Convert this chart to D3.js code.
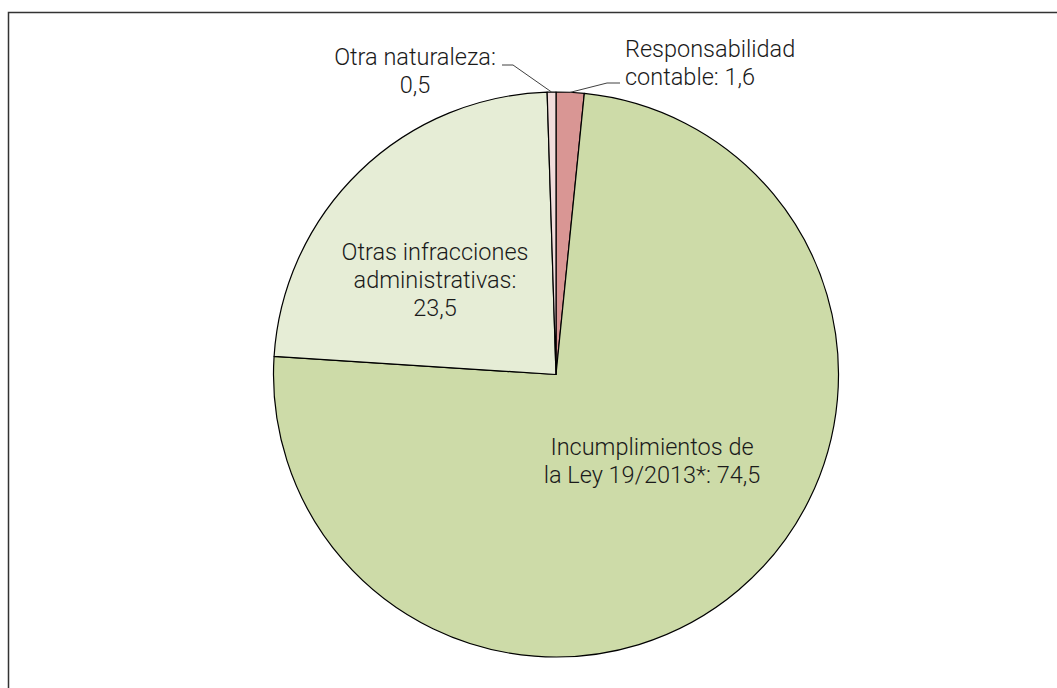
<!DOCTYPE html>
<html>
<head>
<meta charset="utf-8">
<script src="https://cdn.jsdelivr.net/npm/d3@7"></script>
<style>
  body { margin: 0; background: #fff; }
  text { font-family: Roboto, "Liberation Sans", sans-serif; font-weight: 300; fill: #1a1a1a; }
</style>
</head>
<body>
<div id="chart"></div>
<script>
// data, clockwise from 12 o'clock
const categories = ["Responsabilidad contable", "Incumplimientos de la Ley 19/2013*", "Otras infracciones administrativas", "Otra naturaleza"];
const values = [1.6, 74.5, 23.5, 0.5];
const labelLines = [
    ["Responsabilidad", "contable: 1,6"],
    ["Incumplimientos de", "la Ley 19/2013*: 74,5"],
    ["Otras infracciones", "administrativas:", "23,5"],
    ["Otra naturaleza:", "0,5"]
];
const colors = ["#d99694", "#cddba8", "#e6edd6", "#f2dcdb"];

const width = 1057;
const height = 688;
const cx = 556, cy = 374.5, radius = 282.5;

const svg = d3.select("#chart")
    .append("svg")
    .attr("width", width)
    .attr("height", height);

// frame (only top and left edges are visible in the picture)
svg.append("rect")
    .attr("x", 8.5)
    .attr("y", 12.5)
    .attr("width", 1100)
    .attr("height", 700)
    .attr("fill", "none")
    .attr("stroke", "#333")
    .attr("stroke-width", 1.5);

const pie = d3.pie().sort(null).value(d => d);
const arcs = pie(values);
const arc = d3.arc().innerRadius(0).outerRadius(radius);

const g = svg.append("g").attr("transform", `translate(${cx},${cy})`);

g.selectAll("path")
    .data(arcs)
    .enter().append("path")
    .attr("d", arc)
    .attr("fill", (d, i) => colors[i])
    .attr("stroke", "#000")
    .attr("stroke-width", 1.2)
    .attr("stroke-linejoin", "round");

// label placement, relative to the pie centre
const labelPos = [
    {x: 69, y: -317.5, anchor: "start", lead: [[51, -291.5], [64, -291.5]]},
    {x: 96, y: 80.5, anchor: "middle"},
    {x: -121, y: -114.5, anchor: "middle"},
    {x: -141, y: -309.5, anchor: "middle", lead: [[-43, -309.5], [-54, -309.5]]}
];
const lineH = 28;

const edge = d => {
    const a = (d.startAngle + d.endAngle) / 2;
    return [Math.sin(a) * radius, -Math.cos(a) * radius];
};

arcs.forEach((d, i) => {
    const p = labelPos[i];
    if (p.lead) {
        g.append("path")
            .attr("d", d3.line()([edge(d), p.lead[0], p.lead[1]]))
            .attr("fill", "none")
            .attr("stroke", "#404040")
            .attr("stroke-width", 1);
    }
    const t = g.append("text")
        .attr("text-anchor", p.anchor)
        .attr("font-size", 23.5);
    labelLines[i].forEach((s, k) => {
        t.append("tspan")
            .attr("x", p.x)
            .attr("y", p.y + k * lineH)
            .text(s);
    });
});
</script>
</body>
</html>
